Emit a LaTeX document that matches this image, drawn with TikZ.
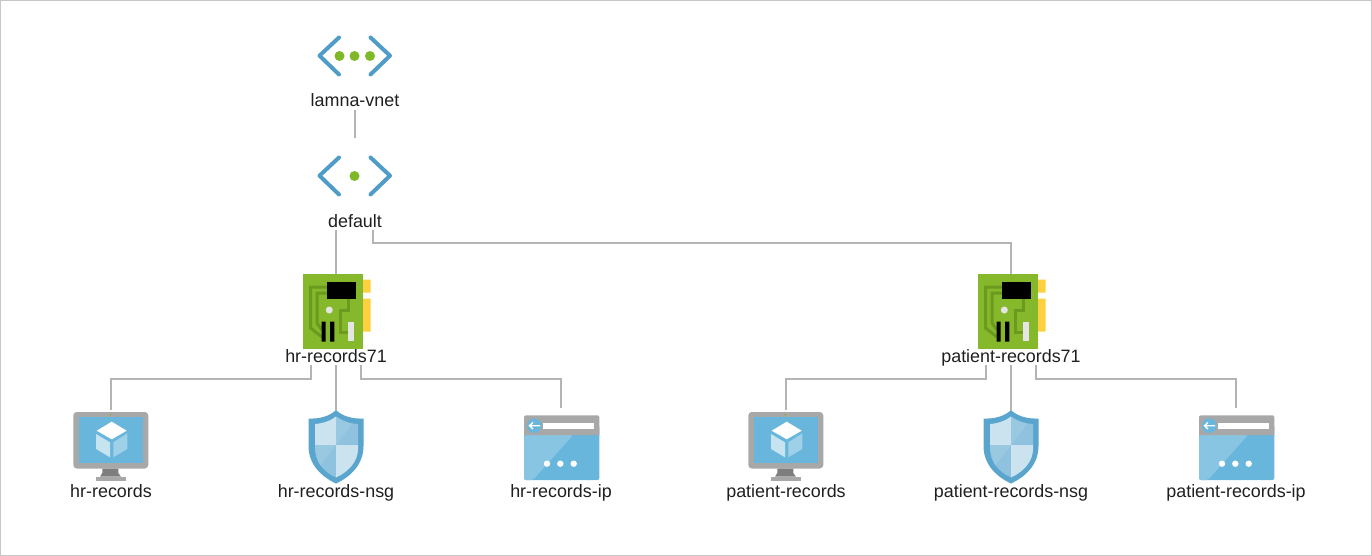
\documentclass[tikz,border=0pt]{standalone}
\usepackage{fontspec}
\setmainfont{Liberation Sans}
\usetikzlibrary{calc}
\definecolor{linkgray}{HTML}{B4B4B4}
\definecolor{azblue}{HTML}{4F9CC9}
\definecolor{azgreen}{HTML}{7FB928}
\definecolor{nicgreen}{HTML}{86B82B}
\definecolor{nicdark}{HTML}{6B9A1E}
\definecolor{nicyellow}{HTML}{FCD03F}
\definecolor{screenblue}{HTML}{68B6DC}
\definecolor{lightblue}{HTML}{88C5E2}
\definecolor{palecube}{HTML}{C6E3F0}
\definecolor{midcube}{HTML}{9ED0E8}
\definecolor{monitorgray}{HTML}{A8A8A8}
\definecolor{standgray}{HTML}{7E7E7E}
\definecolor{shieldout}{HTML}{59A5CE}
\definecolor{shieldpale}{HTML}{CBE3EF}
\definecolor{shieldmid}{HTML}{8EC2DE}
\tikzset{
  link/.style={draw=linkgray,line width=1.3pt},
  lbltext/.style={inner sep=0pt,minimum height=18pt,text height=15pt,text depth=3pt,text=black!88,font=\fontsize{17.9}{18}\selectfont},
  iconbox/.style={inner sep=0pt,minimum width=76pt},
  bracket/.style={draw=azblue,line width=4pt,line join=round,line cap=round},
  vdot/.style={fill=azgreen},
  vnetthree/.pic={
    \draw[bracket] (339,37.5) -- (319.5,55.7) -- (339,74.5);
    \draw[bracket] (370.5,37.5) -- (390,55.7) -- (370.5,74.5);
    \fill[vdot] (339.5,56) circle (5) (354.5,56) circle (5) (370,56) circle (5);
  },
  subnet/.pic={
    \draw[bracket] (339,37.5) -- (319.5,55.7) -- (339,74.5);
    \draw[bracket] (370.5,37.5) -- (390,55.7) -- (370.5,74.5);
    \fill[vdot] (354.5,56) circle (5);
  },
  nicicon/.pic={
    \fill[nicyellow] (363,279.5) rectangle (370.5,292.5) (363,298.5) rectangle (370.5,331.5);
    \fill[nicgreen] (303,274) rectangle (363.3,349);
    \draw[nicdark,line width=3pt] (328,287) -- (310.5,287) -- (310.5,328) -- (322,337);
    \draw[nicdark,line width=3pt] (328,293) -- (317,293) -- (317,323) -- (322,330);
    \draw[nicdark,line width=3pt] (348.5,299) -- (348.5,310) -- (340,310) -- (340,332.5) -- (348,332.5);
    \fill[black] (327.3,281.7) rectangle (355.7,299.3);
    \fill[black] (321.7,321.7) rectangle (325.7,341.7) (330,321.7) rectangle (334.3,341.7);
    \fill[black!10] (329.3,310) circle (3.5);
    \fill[black!10] (347.7,322.3) rectangle (354,341);
  },
  vmicon/.pic={
    \fill[monitorgray,rounded corners=3.5pt] (73.3,412) rectangle (148.3,468.5);
    \fill[screenblue] (79,417.3) rectangle (142.7,462.7);
    \fill[azgreen] (110.3,414.7) circle (0.9);
    \fill[standgray] (102.3,468.5) -- (118.3,468.5) -- (118.3,473) -- (121,476.7) -- (100,476.7) -- (102.3,473) -- cycle;
    \fill[monitorgray] (95.7,476.7) rectangle (125.7,481);
    \fill[white] (111.7,421.7) -- (126.7,430.7) -- (111.7,439.3) -- (96.7,430.7) -- cycle;
    \fill[palecube] (96,434) -- (110,442.3) -- (110,457.3) -- (96,449) -- cycle;
    \fill[midcube] (113.3,442.3) -- (127.3,433.3) -- (127.3,449) -- (113.3,457.3) -- cycle;
  },
  shieldicon/.pic={
    \fill[shieldout] (336,410) .. controls (342,416) and (352,419) .. (363.5,418.5) -- (363.5,446) .. controls (363.5,465) and (350,477) .. (336,483.5) .. controls (322,477) and (308.5,465) .. (308.5,446) -- (308.5,418.5) .. controls (320,419) and (330,416) .. (336,410) -- cycle;
    \fill[shieldpale] (336,416.5) .. controls (331,420.5) and (323,423.5) .. (315,424) -- (315,445) -- (336,445) -- cycle;
    \fill[shieldmid] (336,416.5) .. controls (341,420.5) and (349,423.5) .. (358,424) -- (358,445) -- (336,445) -- cycle;
    \fill[shieldmid] (315,445) -- (336,445) -- (336,477.5) .. controls (324,472) and (315,462) .. (315,449) -- cycle;
    \fill[shieldpale] (358,445) -- (336,445) -- (336,477.5) .. controls (348,472) and (358,462) .. (358,449) -- cycle;
    \fill[white,opacity=0.1] (336,445) -- (352,424) -- (336,416.5) -- cycle;
    \fill[white,opacity=0.1] (336,445) -- (320,466) -- (315,449) -- (315,445) -- cycle;
  },
  ipicon/.pic={
    \fill[screenblue,rounded corners=2pt] (524,425) rectangle (599.3,480);
    \fill[lightblue,rounded corners=2pt] (524,435) -- (573,435) -- (533,480) -- (524,480) -- cycle;
    \fill[monitorgray,rounded corners=2pt] (524,435) -- (524,415.3) -- (599.3,415.3) -- (599.3,435);
    \fill[white] (543.3,422.7) rectangle (594,429);
    \fill[screenblue] (534.3,425.7) circle (7.3);
    \draw[white,line width=1.4pt] (540,425.7) -- (529.5,425.7) (533,422.4) -- (529.5,425.7) -- (533,429);
    \fill[white] (547,463.7) circle (3.2) (560.3,463.7) circle (3.2) (573.7,463.7) circle (3.2);
  }
}
\begin{document}
\begin{tikzpicture}[x=1pt,y=-1pt]
\useasboundingbox (0,0) rectangle (1372,556);
\draw[black!22,line width=1pt] (0.5,0.5) rectangle (1371.5,555.5);

% icon boxes (invisible anchors for connectors)
\node[iconbox,minimum height=76pt] (subnetbox) at (355,176) {};
\node[iconbox,minimum height=75pt] (nicA) at (336,311.5) {};
\node[iconbox,minimum height=75pt] (nicB) at (1011,311.5) {};
\node[iconbox,minimum height=72pt] (vmA) at (111,446) {};
\node[iconbox,minimum height=72pt] (shA) at (336,446) {};
\node[iconbox,minimum height=76pt] (ipA) at (561,446) {};
\node[iconbox,minimum height=72pt] (vmB) at (786,446) {};
\node[iconbox,minimum height=72pt] (shB) at (1011,446) {};
\node[iconbox,minimum height=76pt] (ipB) at (1236,446) {};

% labels
\node[lbltext] (vnetlbl) at (355,101) {lamna-vnet};
\node[lbltext] (subnetlbl) at (355,221) {default};
\node[lbltext] (nicAlbl) at (336,356) {hr-records71};
\node[lbltext] (nicBlbl) at (1011,356) {patient-records71};
\node[lbltext] (vmAlbl) at (111,491) {hr-records};
\node[lbltext] (shAlbl) at (336,491) {hr-records-nsg};
\node[lbltext] (ipAlbl) at (561,491) {hr-records-ip};
\node[lbltext] (vmBlbl) at (786,491) {patient-records};
\node[lbltext] (shBlbl) at (1011,491) {patient-records-nsg};
\node[lbltext] (ipBlbl) at (1236,491) {patient-records-ip};

\coordinate (trunk) at (0,243);
\coordinate (busA) at (0,379);

% connectors
\draw[link] (vnetlbl.south) -- (subnetbox.north);
\draw[link] ([xshift=-19pt]subnetlbl.south) -- (nicA.north);
\draw[link] ([xshift=18pt]subnetlbl.south) |- (nicB.north |- trunk) -- (nicB.north);
\draw[link] ([xshift=-25pt]nicAlbl.south) |- (vmA.north |- busA) -- (vmA.north);
\draw[link] (nicAlbl.south) -- (shA.north);
\draw[link] ([xshift=25pt]nicAlbl.south) |- (ipA.north |- busA) -- (ipA.north);
\draw[link] ([xshift=-25pt]nicBlbl.south) |- (vmB.north |- busA) -- (vmB.north);
\draw[link] (nicBlbl.south) -- (shB.north);
\draw[link] ([xshift=25pt]nicBlbl.south) |- (ipB.north |- busA) -- (ipB.north);

% icons
\pic at (0,0) {vnetthree};
\pic at (0,120) {subnet};
\pic at (0,0) {nicicon};
\pic at (675,0) {nicicon};
\pic at (0,0) {vmicon};
\pic at (675,0) {vmicon};
\pic at (0,0) {shieldicon};
\pic at (675,0) {shieldicon};
\pic at (0,0) {ipicon};
\pic at (675,0) {ipicon};
\end{tikzpicture}
\end{document}
